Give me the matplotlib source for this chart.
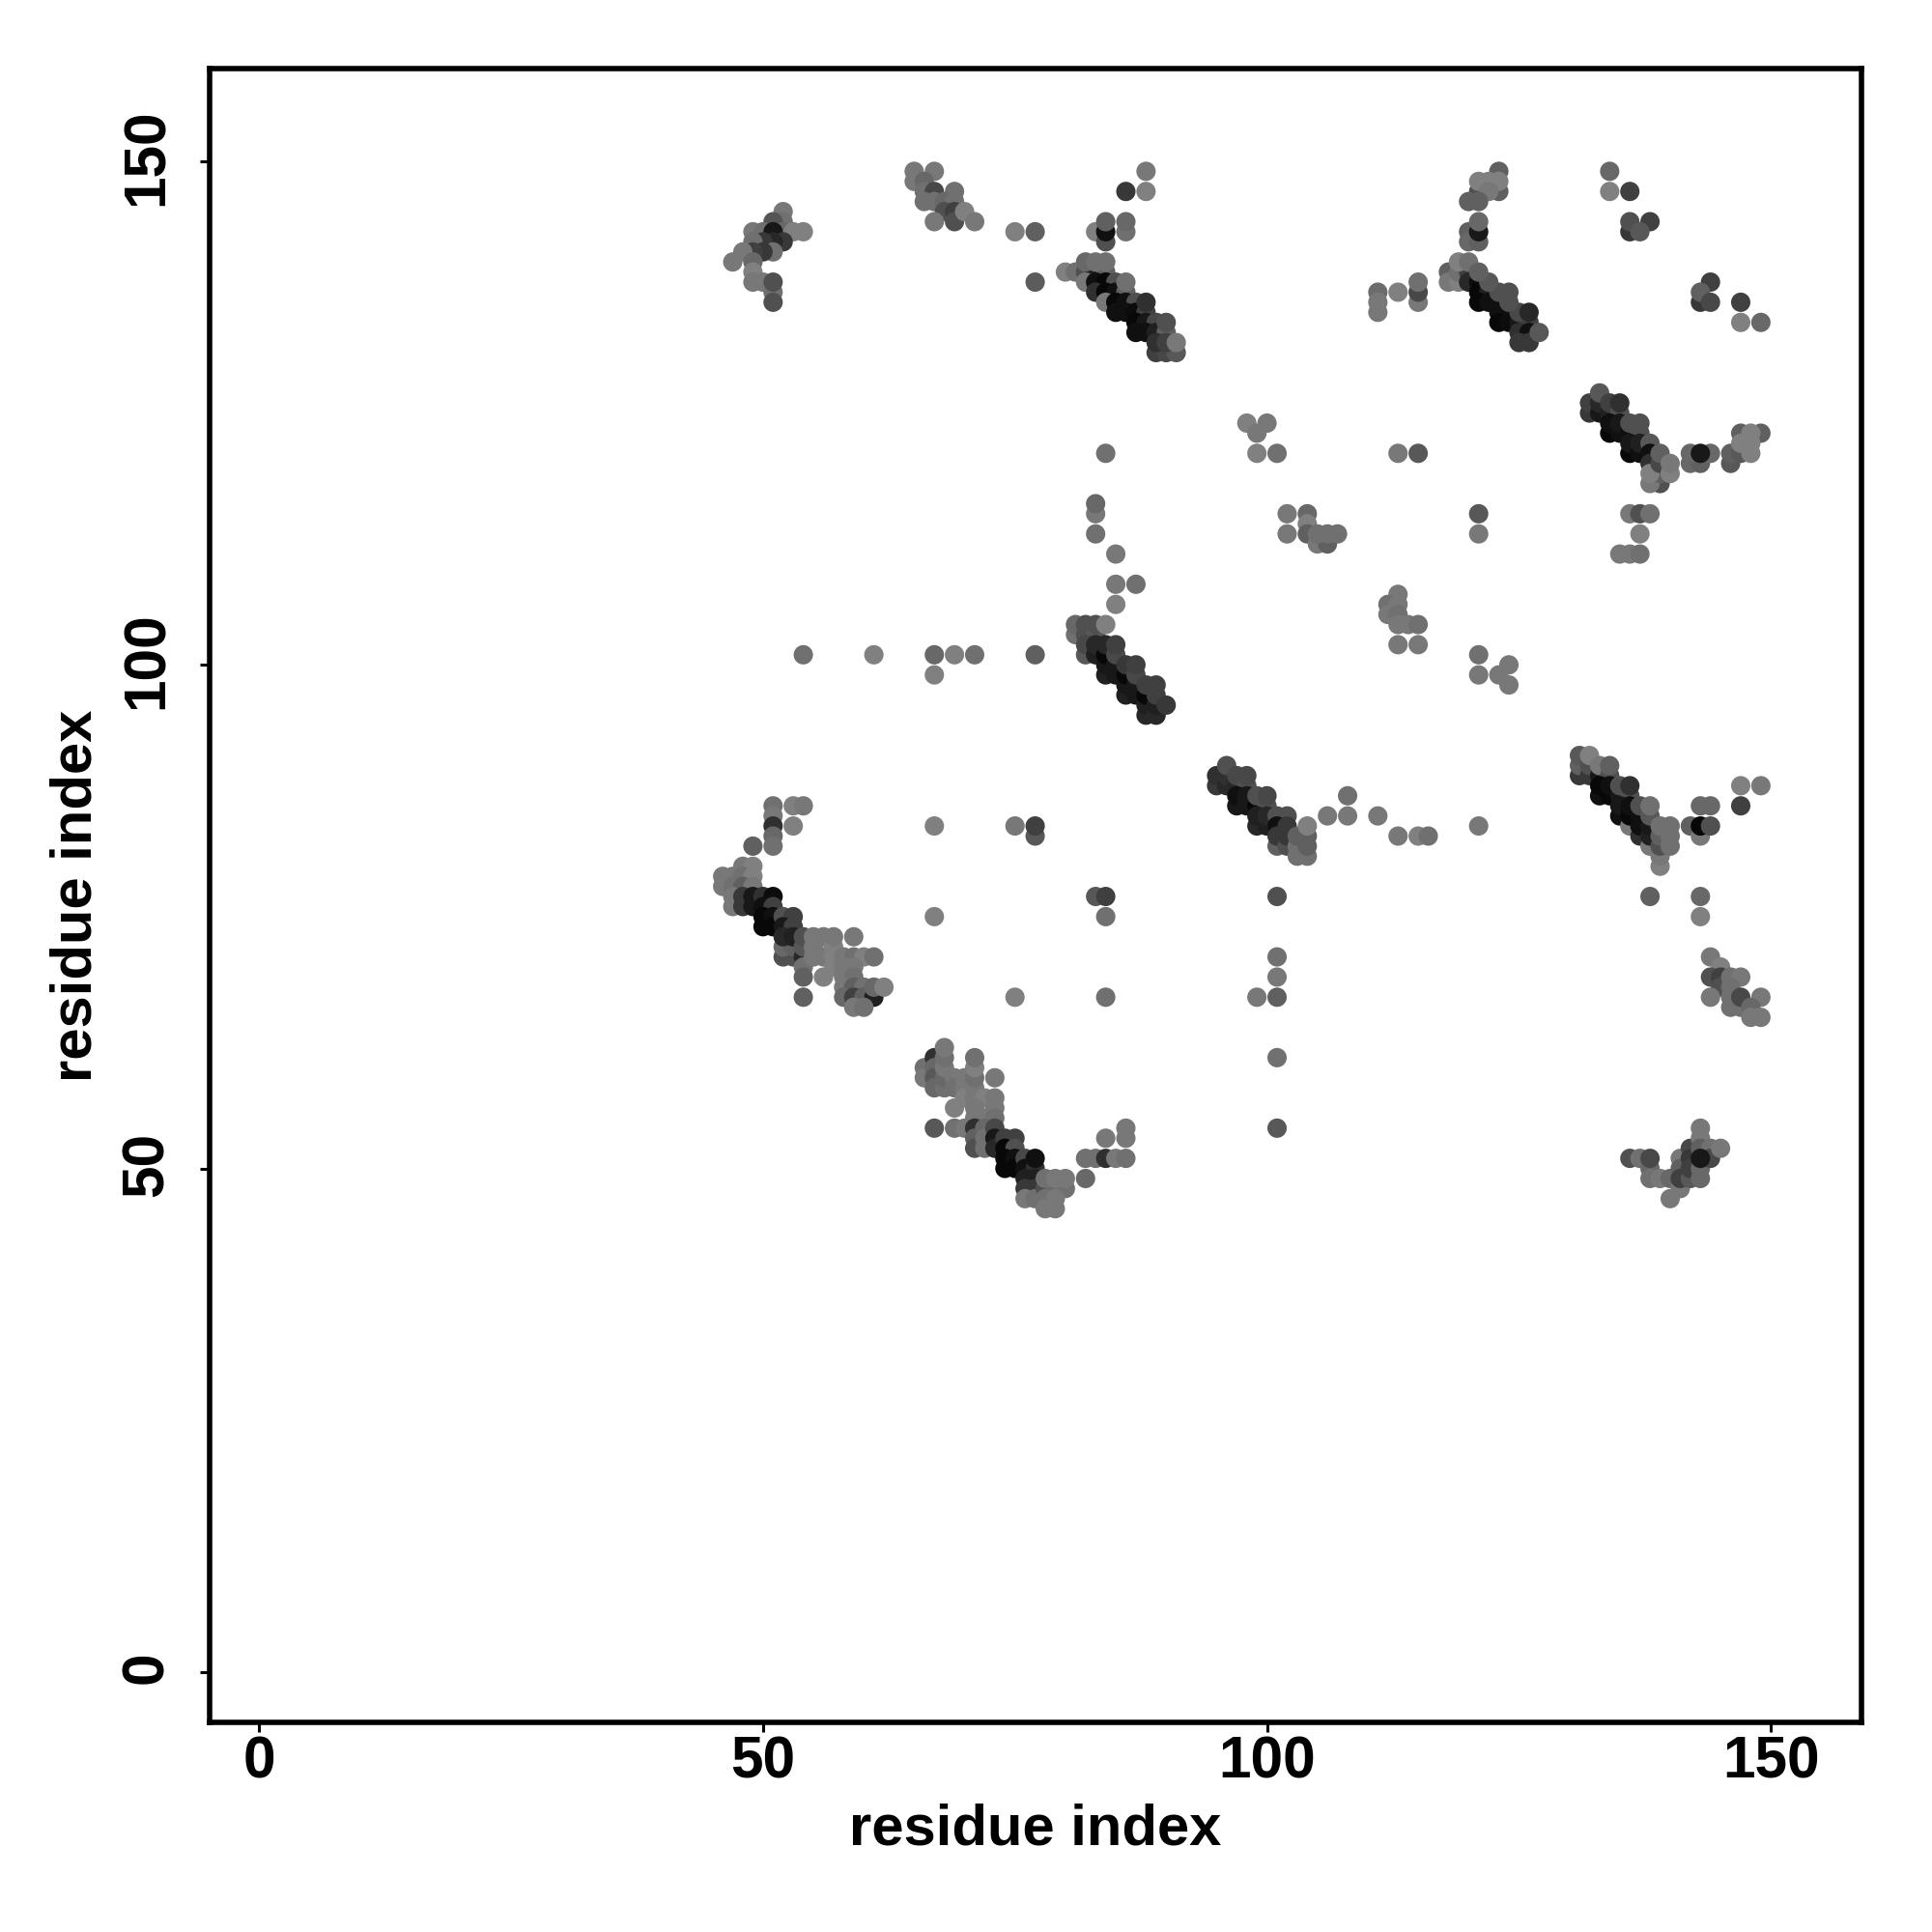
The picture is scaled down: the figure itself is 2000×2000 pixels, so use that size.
import matplotlib
matplotlib.use("Agg")
import matplotlib.pyplot as plt
from matplotlib.transforms import ScaledTranslation

# contacts as (residue i, residue j, grey level 0-255)
cluster_a = [(52,145,0x78),(52,144,0x70),(51,144,0x55),(49,143,0x78),(50,143,0x70),(52,143,0x68),(51,143,0x18),
 (53,143,0x80),(54,143,0x80),(52,142,0x38),(51,142,0x28),(50,142,0x38),(49,142,0x70),(51,141,0x70),(50,141,0x38),
 (49,141,0x40),(48,141,0x78),(47,140,0x78),(49,140,0x68),(49,139,0x80),(49,138,0x78),(50,138,0x78),(51,137,0x70),
 (51,136,0x50),(51,138,0x50)]
cluster_b = [(65,149,0x78),(67,149,0x78),(65,148,0x78),(66,148,0x68),(66,147,0x70),(67,147,0x48),(69,147,0x70),
 (66,146,0x70),(67,146,0x70),(68,146,0x68),(69,146,0x70),(68,145,0x50),(69,145,0x40),(67,144,0x78),(69,144,0x50),
 (70,145,0x80),(71,144,0x78),(75,143,0x80),(77,143,0x60),(77,138,0x5c)]
cluster_c = [(88,149,0x78),(86,147,0x38),(88,147,0x80),(83,143,0x80),(84,142,0x50),(84,143,0x10),(84,144,0x60),
 (86,143,0x70),(86,144,0x68)]
cluster_d = [(80,139,0x80),(81,139,0x70),(82,139,0x50),(83,139,0x20),(84,139,0x60),(82,138,0x78),(83,138,0x10),
 (84,138,0x08),(85,138,0x50),(83,137,0x30),(84,137,0x08),(85,137,0x10),(86,137,0x60),(84,136,0x78),(85,136,0x08),
 (86,136,0x10),(87,136,0x50),(85,135,0x10),(86,135,0x10),(87,135,0x0c),(88,135,0x40),(88,136,0x30),(87,134,0x08),
 (88,134,0x18),(89,134,0x48),(87,133,0x10),(88,133,0x10),(89,133,0x20),(90,133,0x60),(90,134,0x50),(89,131,0x40),
 (90,131,0x48),(91,131,0x58),(89,132,0x30),(90,132,0x40),(91,132,0x78),(82,140,0x68),(83,140,0x70),(84,140,0x70),
 (86,138,0x70)]
cluster_e = [(111,137,0x6c),(111,136,0x78),(111,135,0x78),(113,137,0x80),(115,136,0x78),(115,137,0x48),(115,138,0x70)]
cluster_f = [(123,147,0x60),(121,147,0x50),(123,149,0x60),(121,148,0x80),(122,148,0x80),(123,148,0x80),(122,147,0x78),
 (120,146,0x60),(121,146,0x60),(120,143,0x60),(120,142,0x68),(121,142,0x60),(121,143,0x18),(121,144,0x68)]
cluster_g = [(118,139,0x60),(118,138,0x78),(119,138,0x80),(119,139,0x70),(120,139,0x40),(120,138,0x28),(119,140,0x80),
 (120,140,0x70),(121,138,0x0c),(121,137,0x08),(122,137,0x20),(121,136,0x08),(122,136,0x10),(123,136,0x10),
 (123,135,0x10),(124,135,0x10),(123,134,0x08),(124,134,0x0c),(125,134,0x18),(126,134,0x40),(125,133,0x30),
 (126,133,0x10),(125,132,0x38),(126,132,0x38),(127,133,0x58),(125,135,0x48),(126,135,0x28),(124,136,0x50),
 (123,137,0x50),(124,137,0x50),(122,138,0x58),(121,139,0x60)]
cluster_h = [(134,149,0x68),(134,147,0x80),(136,147,0x40),(136,143,0x38),(136,144,0x50),(138,144,0x40),(137,143,0x58),
 (144,138,0x40),(143,136,0x38),(143,137,0x60),(144,136,0x48),(147,136,0x40),(147,134,0x80),(149,134,0x68)]
cluster_i = [(98,124,0x80),(100,124,0x78),(99,123,0x78),(99,121,0x80),(101,121,0x70),(113,121,0x78),(115,121,0x58),
 (102,115,0x78),(104,115,0x68),(104,114,0x80),(102,113,0x78),(104,113,0x60),(105,112,0x78),(106,112,0x60),
 (105,113,0x70),(106,113,0x70),(107,113,0x70),(121,115,0x58),(121,113,0x78),(136,115,0x78),(137,115,0x50),
 (138,115,0x70),(137,113,0x80),(135,111,0x78),(136,111,0x78),(137,111,0x70)]
cluster_j = [(132,125,0x38),(132,126,0x40),(133,125,0x18),(133,126,0x28),(133,127,0x58),(134,125,0x20),(134,126,0x40),
 (135,125,0x50),(135,126,0x30),(134,123,0x08),(134,124,0x10),(135,123,0x10),(135,124,0x18),(136,123,0x10),
 (136,124,0x50),(137,123,0x50),(137,124,0x50),(136,121,0x08),(136,122,0x18),(137,121,0x10),(137,122,0x20),
 (138,122,0x58),(138,121,0x10),(138,120,0x30),(139,118,0x50),(138,118,0x78),(139,119,0x60),(138,119,0x80),
 (139,120,0x48),(139,121,0x60),(140,119,0x80),(140,120,0x78),(142,120,0x68),(143,120,0x60),(142,121,0x68),
 (144,121,0x68),(143,121,0x18),(146,120,0x58),(146,121,0x60),(147,121,0x58),(147,123,0x60),(149,123,0x60),
 (147,122,0x80),(148,121,0x80),(148,122,0x80),(148,123,0x80)]
cluster_k = [(84,121,0x70),(83,115,0x78),(83,116,0x68),(83,113,0x70),(85,111,0x78),(85,108,0x78),(87,108,0x70),(85,106,0x80),
 (54,101,0x70),(61,101,0x80),(67,101,0x68),(69,101,0x80),(71,101,0x70),(77,101,0x60),(67,99,0x80)]
cluster_l = [(81,103,0x70),(81,104,0x68),(82,103,0x50),(82,104,0x50),(83,103,0x58),(83,104,0x50),(84,104,0x80),
 (82,101,0x58),(82,102,0x48),(83,101,0x20),(83,102,0x28),(84,99,0x20),(84,100,0x18),(84,101,0x08),(84,102,0x28),
 (85,99,0x18),(85,100,0x18),(85,101,0x48),(85,102,0x40),(86,97,0x20),(86,98,0x18),(86,99,0x08),(86,100,0x38),
 (87,97,0x18),(87,98,0x18),(87,99,0x48),(87,100,0x40),(88,95,0x28),(88,96,0x20),(88,97,0x08),(88,98,0x40),
 (89,95,0x28),(89,96,0x20),(89,97,0x40),(89,98,0x40),(90,96,0x38)]
cluster_m = [(95,88,0x38),(95,89,0x30),(96,88,0x28),(96,89,0x30),(96,90,0x50),(97,88,0x28),(97,89,0x48),(98,88,0x50),
 (98,89,0x48),(97,86,0x18),(97,87,0x10),(98,86,0x18),(98,87,0x18),(99,86,0x08),(99,87,0x50),(100,86,0x50),(100,87,0x48),
 (99,84,0x28),(99,85,0x20),(100,84,0x20),(100,85,0x28),(101,85,0x50),(102,85,0x50),(101,84,0x10),(102,84,0x38),
 (101,82,0x60),(101,83,0x38),(102,82,0x50),(102,83,0x38),(103,81,0x70),(103,82,0x70),(103,83,0x60),(104,81,0x70),
 (104,82,0x60),(104,83,0x60),(104,84,0x80),(108,87,0x70),(106,85,0x78),(108,85,0x78),(111,85,0x78),(113,83,0x78),
 (115,83,0x80),(116,83,0x70),(121,84,0x78)]
cluster_n = [(131,89,0x38),(131,90,0x60),(131,91,0x58),(132,89,0x38),(132,90,0x50),(132,91,0x80),(133,89,0x18),(133,90,0x78),
 (134,89,0x50),(134,90,0x60),(133,87,0x10),(133,88,0x08),(134,87,0x08),(134,88,0x10),(135,87,0x18),(135,88,0x50),
 (136,87,0x50),(136,88,0x30),(135,85,0x10),(135,86,0x18),(136,84,0x78),(136,85,0x08),(136,86,0x10),(137,83,0x30),
 (137,84,0x10),(137,85,0x10),(137,86,0x50),(138,82,0x78),(138,83,0x20),(138,84,0x18),(138,85,0x58),(138,86,0x70),
 (139,80,0x80),(139,81,0x78),(139,82,0x50),(139,83,0x60),(139,84,0x70),(140,82,0x70),(140,83,0x70),(140,84,0x70),
 (142,84,0x60),(143,83,0x78),(143,84,0x08),(144,84,0x50),(143,86,0x68),(144,86,0x68),(147,86,0x40),(147,88,0x80),(149,88,0x78)]
cluster_o = [(138,77,0x60),(143,77,0x68),(143,75,0x80),(144,71,0x78),(145,70,0x80),(144,69,0x50),(145,69,0x40),(145,68,0x50),
 (146,69,0x70),(147,69,0x78),(146,68,0x70),(144,67,0x78),(146,67,0x70),(146,66,0x70),(147,66,0x70),(147,67,0x48),
 (149,67,0x78),(148,66,0x68),(148,65,0x78),(149,65,0x78)]
cluster_p = [(67,84,0x80),(75,84,0x78),(77,83,0x58),(77,84,0x40),(83,77,0x58),(84,77,0x40),(84,75,0x70),(67,75,0x80),
 (75,67,0x80),(84,67,0x70),(101,77,0x50),(101,71,0x70),(101,69,0x78),(99,67,0x78),(101,67,0x60),(101,61,0x70),(101,54,0x58)]
cluster_q = [(113,107,0x78),(112,106,0x70),(113,106,0x78),(112,105,0x78),(113,105,0x70),(113,104,0x78),(114,104,0x78),
 (115,104,0x70),(113,102,0x78),(115,102,0x78),(121,101,0x70),(121,99,0x78),(123,99,0x78),(124,100,0x78),(124,98,0x78)]
cluster_r = [(51,86,0x70),(53,86,0x80),(54,86,0x78),(51,85,0x78),(53,84,0x80),(51,84,0x30),(51,83,0x68),(51,82,0x70),(49,82,0x60),
 (48,80,0x78),(49,80,0x80),(46,79,0x78),(47,79,0x78),(48,79,0x70),(49,79,0x80),(46,78,0x78),(47,78,0x70),(48,78,0x60),
 (49,78,0x78),(47,77,0x78),(47,76,0x78),(48,77,0x38),(48,76,0x38),(49,77,0x18),(49,76,0x18),(50,77,0x30),(51,77,0x0c),
 (50,76,0x10),(51,76,0x40),(50,75,0x08),(50,74,0x08),(51,75,0x10),(51,74,0x08),(52,75,0x50),(53,75,0x40),(52,74,0x18),(53,74,0x40)]
cluster_s = [(52,71,0x50),(53,71,0x50),(52,72,0x68),(53,72,0x60),(52,73,0x28),(53,73,0x20),(54,71,0x28),(54,72,0x58),(54,73,0x50),
 (54,70,0x70),(54,69,0x60),(54,67,0x60),(55,71,0x78),(55,72,0x78),(55,73,0x78),(56,71,0x78),(56,73,0x78),(57,71,0x80),
 (57,72,0x80),(57,73,0x78),(59,73,0x78),(57,70,0x80),(58,71,0x78),(59,71,0x70),(60,71,0x80),(61,71,0x70),(58,70,0x78),
 (59,70,0x78),(56,69,0x80),(58,69,0x78),(59,69,0x70),(58,68,0x78),(59,68,0x60),(60,68,0x70),(58,67,0x68),(59,67,0x40),
 (60,67,0x60),(61,67,0x20),(61,68,0x68),(62,68,0x80),(59,66,0x78),(60,66,0x70)]
cluster_t = [(66,60,0x70),(66,59,0x78),(67,61,0x30),(67,60,0x68),(67,59,0x58),(67,58,0x68),(68,58,0x70),(68,59,0x68),(68,60,0x78),
 (68,61,0x70),(68,62,0x78),(69,59,0x78),(69,58,0x70),(70,59,0x78),(70,58,0x78),(70,57,0x80),(71,58,0x78),(71,59,0x70),
 (71,60,0x80),(71,61,0x70),(73,59,0x78),(71,57,0x78),(72,57,0x80),(73,57,0x78),(69,56,0x80),(71,56,0x78),(73,56,0x78),
 (71,55,0x78),(72,55,0x78),(73,55,0x70),(67,54,0x58),(69,54,0x70),(70,54,0x78)]
cluster_u = [(71,54,0x30),(71,53,0x60),(71,52,0x50),(72,54,0x68),(72,53,0x70),(72,52,0x70),(73,54,0x48),(73,53,0x18),(73,52,0x28),
 (74,53,0x40),(75,53,0x40),(74,52,0x08),(75,52,0x50),(74,51,0x08),(74,50,0x08),(75,51,0x10),(75,50,0x08),(76,51,0x48),
 (76,50,0x10),(77,50,0x30),(77,51,0x10),(76,49,0x20),(77,49,0x20),(76,48,0x38),(77,48,0x38),(76,47,0x78),(77,47,0x70),
 (78,48,0x50),(79,48,0x68),(80,48,0x70),(78,47,0x70),(79,47,0x78),(78,49,0x70),(79,49,0x78),(80,49,0x78),(78,46,0x78),(79,46,0x78),
 (82,51,0x70),(83,51,0x70),(84,51,0x30),(85,51,0x78),(86,51,0x70),(84,53,0x78),(86,54,0x78),(86,53,0x78),(82,49,0x68)]
cluster_v = [(136,51,0x50),(137,51,0x70),(138,50,0x68),(138,49,0x70),(139,49,0x78),(138,51,0x48),(140,49,0x68),(140,47,0x78),
 (141,51,0x78),(141,48,0x78),(141,50,0x60),(141,49,0x40),(142,49,0x58),(142,52,0x48),(142,51,0x38),(142,50,0x40),
 (143,54,0x78),(143,53,0x78),(143,52,0x60),(143,50,0x68),(143,49,0x68),(144,52,0x70),(144,51,0x48),(143,51,0x18),(145,52,0x78)]

clusters = [cluster_a, cluster_b, cluster_c, cluster_d, cluster_e, cluster_f, cluster_g, cluster_h, cluster_i, cluster_j,
            cluster_k, cluster_l, cluster_m, cluster_n, cluster_o, cluster_p, cluster_q, cluster_r, cluster_s, cluster_t,
            cluster_u, cluster_v]
tick_values = [0, 50, 100, 150]
axis_label = "residue index"

plt.rcParams['font.family'] = ['Liberation Sans', 'DejaVu Sans']
plt.rcParams['font.weight'] = 'bold'

W = 2000
fig = plt.figure(figsize=(10, 10), dpi=200, facecolor='white')
ax = fig.add_axes([217/W, 1-1783/W, (1927-217)/W, (1783-71)/W])
for c in clusters:
    xs = [p[0] for p in c]
    ys = [p[1] for p in c]
    cols = [(p[2]/255, p[2]/255, p[2]/255) for p in c]
    ax.scatter(xs, ys, s=52, c=cols, linewidths=0, clip_on=True, zorder=2)

ax.set_xlim(-4.9, 158.98)
ax.set_ylim(-5.0, 159.2)
ax.set_xticks(tick_values)
ax.set_yticks(tick_values)
ax.tick_params(axis='both', length=3.6, width=1.1, labelsize=21.8, color='black')
ax.tick_params(axis='x', pad=1.4)
ax.tick_params(axis='y', pad=9.2)
shift = ScaledTranslation(0, 4.5/200, fig.dpi_scale_trans)
for t in ax.get_yticklabels():
    t.set_rotation(90)
    t.set_va('center')
    t.set_transform(t.get_transform() + shift)
for s in ax.spines.values():
    s.set_linewidth(2.0)
ax.set_xlabel(axis_label, fontsize=21.5, fontweight='bold', labelpad=4.5)
ax.set_ylabel(axis_label, fontsize=21.5, fontweight='bold', labelpad=6.5)
fig.savefig('out.png', dpi=200)
